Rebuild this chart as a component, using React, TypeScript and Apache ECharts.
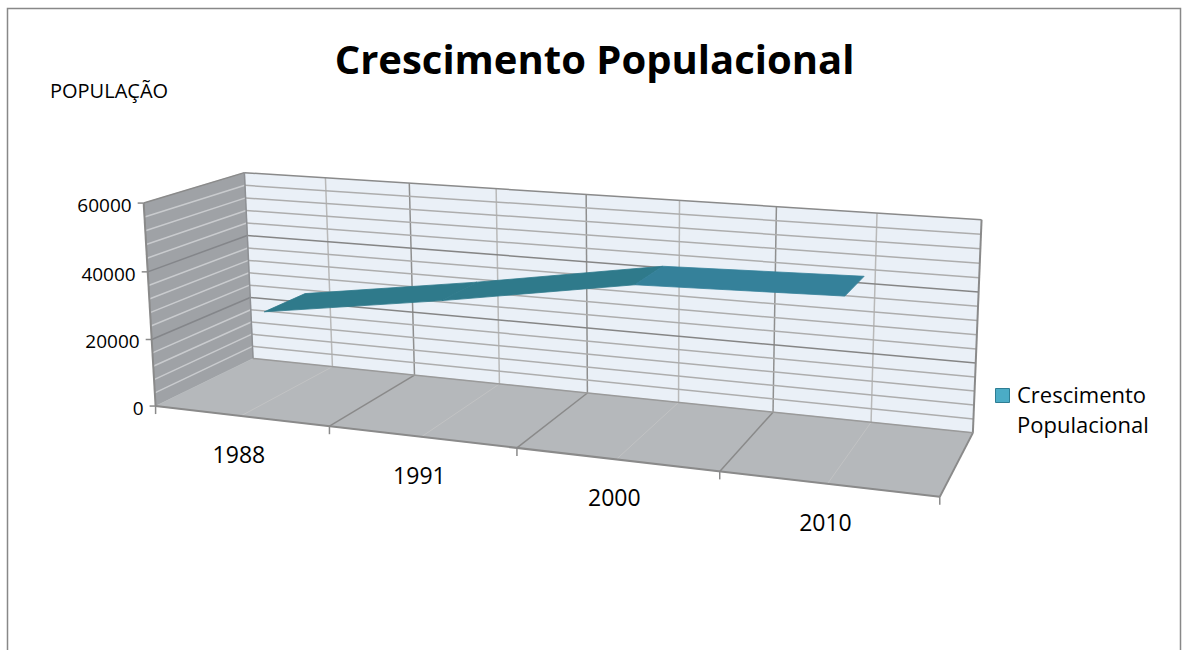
import React, { useEffect, useRef } from "react";
import * as echarts from "echarts";

// ---------- data ----------
const categories = ["1988", "1991", "2000", "2010"];
const population = [27000, 35000, 44000, 45500];
const yTickValues = [0, 20000, 40000, 60000];
const yMin = 0;
const yMax = 60000;
const yMajor = 20000;
const yMinor = 4000;
const chartTitle = "Crescimento Populacional";
const yAxisTitle = "POPULAÇÃO";
const seriesName = "Crescimento Populacional";
const legendText = "Crescimento\nPopulacional";

// ---------- layout ----------
const FONT = "'Open Sans', 'Liberation Sans', sans-serif";
// perspective anchors of the 3D box: [u, v, w, screenX, screenY]
// u: 0..1 along categories, v: 0..1 along values, w: 0 front .. 1 back
const ANCHORS: number[][] = [
  [0, 0, 0, 156, 405],
  [0, 1, 0, 143, 203],
  [0, 1 / 3, 0, 152, 339],
  [0, 2 / 3, 0, 147.5, 272],
  [0, 0, 1, 253, 359],
  [0, 1, 1, 245, 173],
  [0, 1 / 3, 1, 251, 297],
  [0, 2 / 3, 1, 247, 236],
  [1, 0, 1, 971, 432],
  [1, 1, 1, 982, 220],
  [1, 2 / 3, 1, 978, 291],
  [1, 0, 0, 940, 497],
  [0.25, 0, 0, 330, 426],
  [0.5, 0, 0, 517, 449],
  [0.75, 0, 0, 719, 472],
  [0.25, 0, 1, 412, 375],
  [0.5, 0, 1, 587, 393],
  [0.75, 0, 1, 777, 413],
];
const RIBBON_FRONT = 0.28;
const RIBBON_BACK = 0.72;

function solveProjection(pts: number[][]): number[] {
  const n = 11;
  const M: number[][] = Array.from({ length: n }, () => new Array(n + 1).fill(0));
  const add = (row: number[], rhs: number) => {
    for (let i = 0; i < n; i++) {
      for (let j = 0; j < n; j++) M[i][j] += row[i] * row[j];
      M[i][n] += row[i] * rhs;
    }
  };
  for (const [u, v, w, x, y] of pts) {
    add([u, v, w, 1, 0, 0, 0, 0, -x * u, -x * v, -x * w], x);
    add([0, 0, 0, 0, u, v, w, 1, -y * u, -y * v, -y * w], y);
  }
  for (let c = 0; c < n; c++) {
    let piv = c;
    for (let r = c + 1; r < n; r++) if (Math.abs(M[r][c]) > Math.abs(M[piv][c])) piv = r;
    const tmp = M[c];
    M[c] = M[piv];
    M[piv] = tmp;
    for (let r = 0; r < n; r++) {
      if (r === c) continue;
      const f = M[r][c] / M[c][c];
      for (let k = c; k <= n; k++) M[r][k] -= f * M[c][k];
    }
  }
  return M.map((row, i) => row[n] / row[i]);
}

const PM = solveProjection(ANCHORS);
function project(u: number, v: number, w: number): number[] {
  const d = PM[8] * u + PM[9] * v + PM[10] * w + 1;
  return [
    (PM[0] * u + PM[1] * v + PM[2] * w + PM[3]) / d,
    (PM[4] * u + PM[5] * v + PM[6] * w + PM[7]) / d,
  ];
}

function makeHelpers(params: any, api: any) {
  const cs = params.coordSys;
  const toU = (px: number) => (px - cs.x) / cs.width;
  const toV = (py: number) => (cs.y + cs.height - py) / cs.height;
  const bw = api.size([1, 0])[0];
  const catU = (pos: number) => toU(api.coord([0, yMin])[0] + pos * bw);
  const valV = (val: number) => toV(api.coord([0, val])[1]);
  return { toU, toV, catU, valV };
}

const line = (a: number[], b: number[], stroke: string, lineWidth: number) => ({
  type: "line",
  shape: { x1: a[0], y1: a[1], x2: b[0], y2: b[1] },
  style: { stroke, lineWidth },
  silent: true,
});
const poly = (pts: number[][], fill: string) => ({
  type: "polygon",
  shape: { points: pts },
  style: { fill, stroke: fill, lineWidth: 0.5 },
  silent: true,
});

function renderScene(params: any, api: any) {
  const { catU, valV } = makeHelpers(params, api);
  const P = project;
  const children: any[] = [];
  const n = categories.length;
  // back wall
  children.push(poly([P(0, 0, 1), P(1, 0, 1), P(1, 1, 1), P(0, 1, 1)], "#EAF0F7"));
  const gridVals: number[] = [];
  for (let val = yMin + yMinor; val < yMax; val += yMinor) gridVals.push(val);
  for (let k = 0; k < n; k++) {
    const uc = catU(k);
    children.push(line(P(uc, 0, 1), P(uc, 1, 1), "#B9B9B9", 1.5));
    if (k > 0) {
      const ub = catU(k - 0.5);
      children.push(line(P(ub, 0, 1), P(ub, 1, 1), "#8F8F8F", 1.5));
    }
  }
  for (const val of gridVals) {
    const v = valV(val);
    const major = val % yMajor === 0;
    children.push(line(P(0, v, 1), P(1, v, 1), major ? "#858585" : "#ADADAD", 1.5));
  }
  // side wall
  children.push(poly([P(0, 0, 0), P(0, 0, 1), P(0, 1, 1), P(0, 1, 0)], "#9FA2A6"));
  for (const val of gridVals) {
    const v = valV(val);
    const major = val % yMajor === 0;
    children.push(line(P(0, v, 0), P(0, v, 1), major ? "#84868A" : "#C9CBCE", 1.5));
  }
  // floor
  children.push(poly([P(0, 0, 0), P(1, 0, 0), P(1, 0, 1), P(0, 0, 1)], "#B5B8BB"));
  for (let k = 0; k < n; k++) {
    const uc = catU(k);
    children.push(line(P(uc, 0, 0), P(uc, 0, 1), "#C2C3C4", 1));
    if (k > 0) {
      const ub = catU(k - 0.5);
      children.push(line(P(ub, 0, 0), P(ub, 0, 1), "#8A8A8A", 1.5));
    }
  }
  // edges
  const edge = "#8A8A8A";
  children.push(line(P(0, 1, 1), P(1, 1, 1), edge, 1.5));
  children.push(line(P(1, 1, 1), P(1, 0, 1), edge, 2));
  children.push(line(P(0, 1, 0), P(0, 1, 1), edge, 1.5));
  children.push(line(P(0, 0, 1), P(0, 1, 1), "#8E9094", 1.5));
  children.push(line(P(0, 0, 1), P(1, 0, 1), "#9A9A9A", 1.5));
  children.push(line(P(0, 0, 0), P(0, 1, 0), edge, 2));
  children.push(line(P(0, 0, 0), P(1, 0, 0), edge, 2));
  children.push(line(P(1, 0, 0), P(1, 0, 1), edge, 2));
  // x ticks + labels
  for (let k = 0; k <= n; k++) {
    const p = P(catU(k - 0.5), 0, 0);
    children.push(line(p, [p[0], p[1] + 8], edge, 1.5));
  }
  categories.forEach((c, k) => {
    const p = P(catU(k), 0, 0);
    children.push({
      type: "text",
      x: p[0] - 2,
      y: p[1] + 38,
      silent: true,
      style: {
        text: c,
        fill: "#000",
        fontSize: 23,
        fontFamily: FONT,
        align: "center",
        verticalAlign: "middle",
      },
    });
  });
  // y ticks + labels
  for (const val of yTickValues) {
    const p = P(0, valV(val), 0);
    children.push(line([p[0] - 6, p[1]], p, edge, 1.5));
    children.push({
      type: "text",
      x: p[0] - 12,
      y: p[1] + 2,
      silent: true,
      style: {
        text: String(val),
        fill: "#000",
        fontSize: 19,
        fontFamily: FONT,
        align: "right",
        verticalAlign: "middle",
      },
    });
  }
  return { type: "group", children };
}

function renderRibbon(params: any, api: any) {
  const { toU, toV } = makeHelpers(params, api);
  const i = api.value(0);
  const a = api.value(1);
  const b = api.value(2);
  const pa = api.coord([i, a]);
  const pb = api.coord([i + 1, b]);
  const ua = toU(pa[0]);
  const va = toV(pa[1]);
  const ub = toU(pb[0]);
  const vb = toV(pb[1]);
  const fill = i === categories.length - 2 ? "#35819A" : "#2F7A8B";
  return {
    type: "polygon",
    shape: {
      points: [
        project(ua, va, RIBBON_FRONT),
        project(ub, vb, RIBBON_FRONT),
        project(ub, vb, RIBBON_BACK),
        project(ua, va, RIBBON_BACK),
      ],
    },
    style: { fill, stroke: fill, lineWidth: 0.8 },
  };
}

export default function App() {
  const ref = useRef<HTMLDivElement>(null);
  useEffect(() => {
    if (!ref.current) return;
    const chart = echarts.init(ref.current, undefined, { renderer: "svg" });
    const segments = categories
      .slice(0, -1)
      .map((_, i) => [i, population[i], population[i + 1]]);
    chart.setOption({
      animation: false,
      backgroundColor: "#ffffff",
      title: {
        text: chartTitle,
        left: "center",
        top: 33,
        textStyle: { fontSize: 40, fontWeight: "bold", fontFamily: FONT, color: "#000" },
      },
      graphic: [
        {
          type: "rect",
          shape: { x: 7.5, y: 8.5, width: 1173, height: 660 },
          style: { fill: "none", stroke: "#888888", lineWidth: 1.5 },
          silent: true,
        },
        {
          type: "text",
          left: 50,
          top: 80,
          style: { text: yAxisTitle, fill: "#000", fontSize: 20, fontFamily: FONT },
          silent: true,
        },
        {
          type: "rect",
          shape: { x: 995.5, y: 388.5, width: 14, height: 14 },
          style: { fill: "#4BACC6", stroke: "#2E7D93", lineWidth: 1 },
          silent: true,
        },
        {
          type: "text",
          x: 1017,
          y: 379,
          style: {
            text: legendText,
            fill: "#000",
            fontSize: 22,
            lineHeight: 30,
            fontFamily: FONT,
            verticalAlign: "top",
          },
          silent: true,
        },
      ],
      grid: { left: 100, top: 100, width: 800, height: 400, show: false },
      xAxis: { type: "category", data: categories, show: false, boundaryGap: true },
      yAxis: { type: "value", min: yMin, max: yMax, interval: yMajor, show: false },
      series: [
        {
          type: "custom",
          name: "scene",
          data: [[0, 0]],
          renderItem: renderScene,
          silent: true,
          z: 1,
        },
        {
          type: "custom",
          name: seriesName,
          data: segments,
          encode: { x: 0, y: 1 },
          renderItem: renderRibbon,
          itemStyle: { color: "#4BACC6", borderColor: "#2E7D93", borderWidth: 1 },
          z: 2,
        },
      ],
    });
    return () => chart.dispose();
  }, []);
  return (
    <div
      ref={ref}
      style={{ position: "fixed", left: 0, top: 0, width: 1189, height: 650, background: "#fff" }}
    />
  );
}
